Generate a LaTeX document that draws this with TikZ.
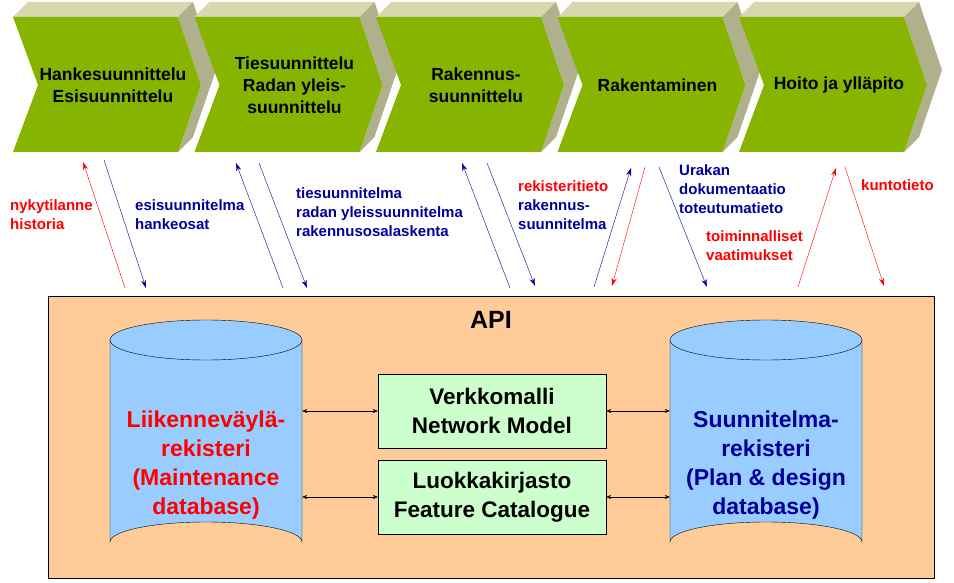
\documentclass[tikz,border=0pt]{standalone}
\usepackage{fontspec}
\setmainfont{Liberation Sans}
\usetikzlibrary{arrows.meta}
\definecolor{chgreen}{RGB}{134,180,0}
\definecolor{chtop}{RGB}{216,216,176}
\definecolor{chside}{RGB}{176,176,140}
\definecolor{panel}{RGB}{255,204,153}
\definecolor{cyl}{RGB}{153,204,255}
\definecolor{boxg}{RGB}{204,255,204}
\definecolor{dblue}{RGB}{0,0,153}
\tikzset{
  phase/.style={font=\bfseries\fontsize{17.5}{22}\selectfont,align=center},
  lbl/.style={font=\bfseries\fontsize{15}{19}\selectfont,align=left,anchor=north west,inner sep=0pt},
  flow/.style={-{Stealth[length=8pt,width=5pt]}},
  link/.style={{Stealth[length=5pt,width=4pt]}-{Stealth[length=5pt,width=4pt]}},
  box/.style={draw,fill=boxg,minimum width=228,minimum height=74,font=\bfseries\fontsize{22.5}{29}\selectfont,align=center},
  store/.style={font=\bfseries\fontsize{23}{29}\selectfont,align=center}
}
\newcommand\chevron[2]{%
  \fill[chtop] (#1,17) -- (#1+15,2) -- (#1+180,2) -- (#1+165,17) -- cycle;
  \fill[chside] (#1+165,17) -- (#1+180,2) -- (#1+203,70) -- (#1+180,137) -- (#1+165,152) -- (#1+188,85) -- cycle;
  \fill[chgreen] (#1,17) -- (#1+165,17) -- (#1+188,85) -- (#1+165,152) -- (#1,152) -- (#1+25,85) -- cycle;
  \node[phase] (#2) at (#1+100,85) {};
}
\newcommand\cylinder[2]{%
  \draw[fill=cyl] (#1-96,340) -- (#1-96,542) arc[start angle=180,end angle=360,x radius=96,y radius=20]
    -- (#1+96,340);
  \draw[fill=cyl] (#1,340) ellipse[x radius=96,y radius=20];
  \node[minimum width=192,minimum height=240,inner sep=0pt] (#2) at (#1,440) {};
}
\begin{document}
\begin{tikzpicture}[x=1pt,y=-1pt]
\useasboundingbox (0,0) rectangle (954,583);
% process chain
\chevron{13}{hanke}
\chevron{194.5}{ties}
\chevron{376}{rak}
\chevron{557.5}{raken}
\chevron{739}{hoito}
\node[phase] at (hanke) {Hankesuunnittelu\\Esisuunnittelu};
\node[phase] at (ties) {Tiesuunnittelu\\Radan yleis-\\suunnittelu};
\node[phase] at (rak) {Rakennus-\\suunnittelu};
\node[phase] at (raken) {Rakentaminen};
\node[phase] at (hoito) {Hoito ja ylläpito};
% data store
\draw[fill=panel] (48,296) rectangle (934,578);
\node[font=\bfseries\fontsize{25}{28}\selectfont] (api) at (491,320) {API};
\cylinder{206}{lvr}
\cylinder{766}{sr}
\node[store,text=red] at (206,465) {Liikenneväylä-\\rekisteri\\(Maintenance\\database)};
\node[store,text=dblue] at (766,465) {Suunnitelma-\\rekisteri\\(Plan \& design\\database)};
\node[box] (verkko) at (492,411) {Verkkomalli\\Network Model};
\node[box] (luokka) at (492,497) {Luokkakirjasto\\Feature Catalogue};
\draw[link] (lvr.east |- verkko) -- (verkko);
\draw[link] (lvr.east |- luokka) -- (luokka);
\draw[link] (verkko) -- (sr.west |- verkko);
\draw[link] (luokka) -- (sr.west |- luokka);
% information flows
\foreach \a/\b/\c/\d/\col in {125/288/83/162/red, 104/160/146/288/dblue,
  283/288/236/163/dblue, 259/163/307/288/dblue, 510/288/462/163/dblue,
  487/163/535/286/dblue, 594/287/631/168/dblue, 645/167/612/286/red,
  659/167/707/287/dblue, 798/287/836/168/red, 845/167/884/286/red}
  \draw[flow,\col] (\a,\b) -- (\c,\d);
\node[lbl,text=red] at (10,199) {nykytilanne\\historia};
\node[lbl,text=dblue] at (135,199) {esisuunnitelma\\hankeosat};
\node[lbl,text=dblue] at (296,187) {tiesuunnitelma\\radan yleissuunnitelma\\rakennusosalaskenta};
\node[lbl,text=red] at (518,180) {rekisteritieto};
\node[lbl,text=dblue] at (518,199) {rakennus-\\suunnitelma};
\node[lbl,text=dblue] at (679,164) {Urakan\\dokumentaatio\\toteutumatieto};
\node[lbl,text=red] at (706,230) {toiminnalliset\\vaatimukset};
\node[lbl,text=red] at (861,179) {kuntotieto};
\end{tikzpicture}
\end{document}
